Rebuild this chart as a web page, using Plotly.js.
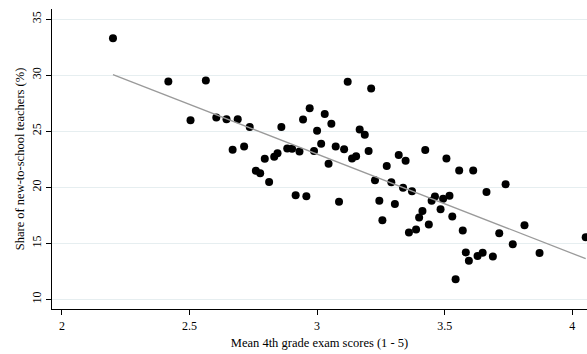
<!DOCTYPE html>
<html>
<head>
<meta charset="utf-8">
<script src="https://cdn.plot.ly/plotly-3.0.1.min.js"></script>
<style>html,body{margin:0;padding:0;background:#fff;}#chart{width:587px;height:354px;}</style>
</head>
<body>
<div id="chart"></div>
<script>
// Mean 4th grade exam scores (1 - 5)
const examScores = [
  2.200, 2.417, 2.564, 2.504, 2.605, 2.645, 2.689, 2.736, 2.860, 2.669,
  2.714, 2.795, 2.832, 2.845, 2.883, 2.760, 2.777, 2.812, 2.902, 2.931,
  2.945, 2.971, 2.988, 3.000, 3.016, 3.030, 3.056, 3.045, 3.073, 3.106,
  3.120, 3.137, 3.153, 3.167, 3.187, 3.202, 3.212, 3.227, 3.273, 3.291,
  2.916, 2.958, 3.086, 3.244, 3.305, 3.256, 3.320, 3.347, 3.424, 3.507,
  3.557, 3.612, 3.337, 3.372, 3.664, 3.739, 3.462, 3.449, 3.494, 3.519,
  3.484, 3.530, 3.413, 3.400, 3.438, 3.360, 3.388, 3.571, 3.714, 3.813,
  3.767, 3.872, 3.583, 3.595, 3.629, 3.649, 3.689, 3.543, 4.053
];
// Share of new-to-school teachers (%)
const newTeacherShare = [
  33.30, 29.43, 29.52, 25.98, 26.21, 26.07, 26.07, 25.36, 25.36, 23.33,
  23.63, 22.53, 22.71, 23.02, 23.45, 21.46, 21.25, 20.47, 23.42, 23.18,
  26.04, 27.05, 23.24, 25.03, 23.87, 26.52, 25.65, 22.08, 23.63, 23.39,
  29.40, 22.57, 22.77, 25.14, 24.67, 23.24, 28.80, 20.61, 21.90, 20.43,
  19.27, 19.18, 18.69, 18.78, 18.51, 17.05, 22.88, 22.35, 23.31, 22.57,
  21.48, 21.48, 19.94, 19.63, 19.58, 20.27, 19.16, 18.78, 18.96, 19.24,
  18.04, 17.39, 17.87, 17.29, 16.66, 15.95, 16.23, 16.14, 15.90, 16.61,
  14.91, 14.13, 14.18, 13.44, 13.85, 14.15, 13.82, 11.79, 15.54
];
// Fitted line endpoints
const fitX = [2.200, 4.053];
const fitY = [30.05, 13.62];

const xTicks = [2, 2.5, 3, 3.5, 4];
const xTickText = ['2', '2.5', '3', '3.5', '4'];
const yTicks = [10, 15, 20, 25, 30, 35];
const yTickText = ['10', '15', '20', '25', '30', '35'];

const serif = 'Liberation Serif, Times New Roman, serif';

const traces = [
  {
    x: examScores, y: newTeacherShare,
    type: 'scatter', mode: 'markers',
    marker: {color: '#000000', size: 8, line: {width: 0}},
    hoverinfo: 'skip', showlegend: false
  },
  {
    x: fitX, y: fitY,
    type: 'scatter', mode: 'lines',
    line: {color: '#9a9a9a', width: 1.3},
    hoverinfo: 'skip', showlegend: false
  }
];

const layout = {
  width: 587, height: 354,
  margin: {l: 52, r: 0, t: 9, b: 45, pad: 0},
  paper_bgcolor: '#ffffff', plot_bgcolor: '#ffffff',
  font: {family: serif, size: 12, color: '#000000'},
  showlegend: false,
  xaxis: {
    range: [1.961, 4.058],
    tickmode: 'array', tickvals: xTicks, ticktext: xTickText,
    ticks: 'outside', ticklen: 5, tickwidth: 1, tickcolor: '#000000',
    showline: true, linecolor: '#000000', linewidth: 1.2,
    showgrid: false, zeroline: false,
    tickfont: {family: serif, size: 12},
    title: {text: 'Mean 4th grade exam scores (1 - 5)', font: {family: serif, size: 12.5}, standoff: 6}
  },
  yaxis: {
    range: [9.13, 35.9],
    tickmode: 'array', tickvals: yTicks, ticktext: yTickText,
    tickangle: -90,
    ticks: 'outside', ticklen: 5, tickwidth: 1, tickcolor: '#000000',
    showline: true, linecolor: '#000000', linewidth: 1.2,
    showgrid: true, gridcolor: '#e6eef0', gridwidth: 1,
    zeroline: false,
    tickfont: {family: serif, size: 12},
    title: {text: 'Share of new-to-school teachers (%)', font: {family: serif, size: 12.5}, standoff: 2}
  }
};

Plotly.newPlot('chart', traces, layout, {staticPlot: true, displayModeBar: false});
</script>
</body>
</html>
